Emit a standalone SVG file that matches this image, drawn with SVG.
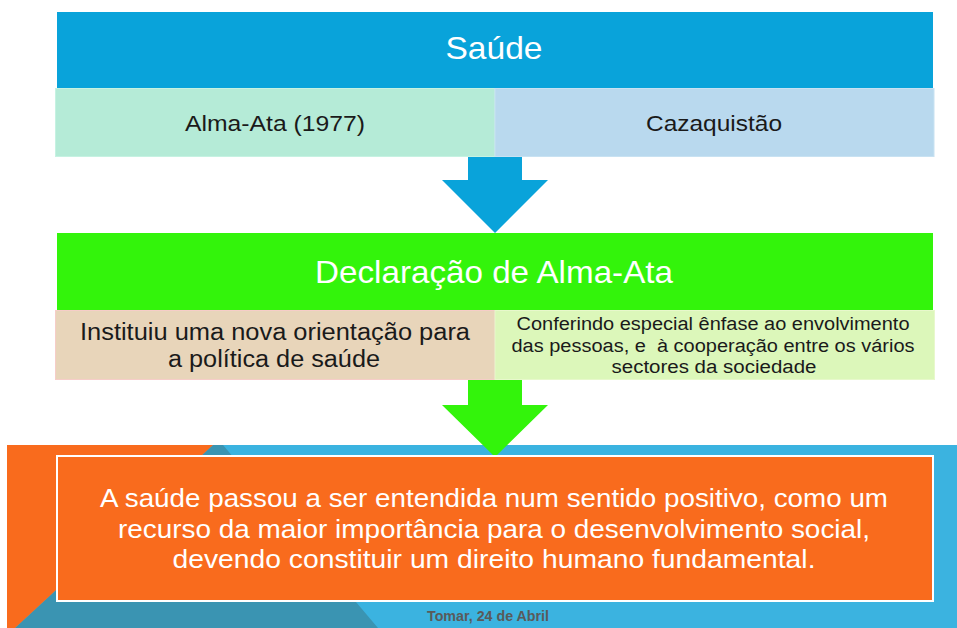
<svg xmlns="http://www.w3.org/2000/svg" width="957" height="628" viewBox="0 0 957 628">
<style>
text{font-family:"Liberation Sans",Arial,sans-serif;text-anchor:middle}
.w{fill:#ffffff}
.k{fill:#1a1a1a}
</style>
<rect width="957" height="628" fill="#ffffff"/>
<g id="background">
<rect x="7" y="445" width="950" height="183" fill="#3bb3e0"/>
<polygon points="213,445 223,445 378,628 15,628" fill="#3a94b2"/>
<polygon points="7,445 213,445 15,628 7,628" fill="#f96b1d"/>
</g>
<g id="connectors">
<polygon points="468,157 522,157 522,180 548,180 495,233 442,180 468,180" fill="#09a3da"/>
<polygon points="468,380 522,380 522,405 548,405 495,457 442,405 468,405" fill="#33f40b"/>
</g>
<g id="saude">
<rect x="57" y="12" width="876" height="76" fill="#09a3da"/>
<text x="494" y="59" class="w" font-size="32" textLength="97" lengthAdjust="spacingAndGlyphs">Saúde</text>
</g>
<g id="alma-ata-1977">
<rect x="55.5" y="88.5" width="439.5" height="68" fill="#b5ebd7" stroke="#c6f2e2" stroke-width="1"/>
<text x="275" y="131" class="k" font-size="22" textLength="180" lengthAdjust="spacingAndGlyphs">Alma-Ata (1977)</text>
</g>
<g id="cazaquistao">
<rect x="495" y="88.5" width="439" height="68" fill="#b9d9ee" stroke="#c8e2f2" stroke-width="1"/>
<text x="714" y="131" class="k" font-size="22" textLength="136" lengthAdjust="spacingAndGlyphs">Cazaquistão</text>
</g>
<g id="declaracao">
<rect x="57" y="233" width="876" height="77" fill="#33f40b"/>
<text x="494" y="283" class="w" font-size="32" textLength="358" lengthAdjust="spacingAndGlyphs">Declaração de Alma-Ata</text>
</g>
<g id="instituiu">
<rect x="55.5" y="310.5" width="439.5" height="69" fill="#e8d5ba" stroke="#f6cdc8" stroke-width="1"/>
<text x="275" y="340" class="k" font-size="23" textLength="390" lengthAdjust="spacingAndGlyphs">Instituiu uma nova orientação para</text>
<text x="274" y="367" class="k" font-size="23" textLength="212" lengthAdjust="spacingAndGlyphs">a política de saúde</text>
</g>
<g id="conferindo">
<rect x="495" y="310.5" width="439.5" height="69" fill="#dcf7ba" stroke="#e8f8cc" stroke-width="1"/>
<text x="713" y="330" class="k" font-size="18" textLength="393" lengthAdjust="spacingAndGlyphs">Conferindo especial ênfase ao envolvimento</text>
<text x="713" y="352" class="k" font-size="18" textLength="403" lengthAdjust="spacingAndGlyphs" xml:space="preserve" style="white-space:pre">das pessoas, e  à cooperação entre os vários</text>
<text x="714" y="373" class="k" font-size="18" textLength="205" lengthAdjust="spacingAndGlyphs">sectores da sociedade</text>
</g>
<g id="saude-positivo">
<rect x="57" y="456" width="876" height="145" fill="#f96b1d" stroke="#ffffff" stroke-width="2"/>
<text x="494" y="507" class="w" font-size="25" textLength="788" lengthAdjust="spacingAndGlyphs">A saúde passou a ser entendida num sentido positivo, como um</text>
<text x="494" y="537.5" class="w" font-size="25" textLength="752" lengthAdjust="spacingAndGlyphs">recurso da maior importância para o desenvolvimento social,</text>
<text x="494" y="568" class="w" font-size="25" textLength="643" lengthAdjust="spacingAndGlyphs">devendo constituir um direito humano fundamental.</text>
</g>
<g id="footer">
<text x="488" y="621" font-size="14" font-weight="bold" fill="#5a5a5a" textLength="122" lengthAdjust="spacingAndGlyphs">Tomar, 24 de Abril</text>
</g>
</svg>
